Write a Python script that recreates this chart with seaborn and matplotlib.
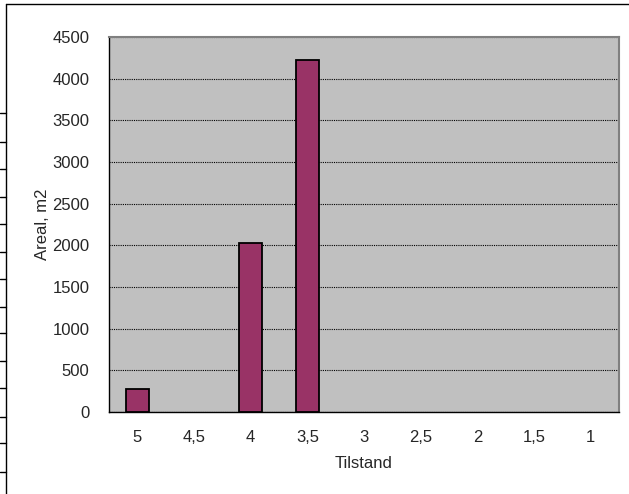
import seaborn as sns
import matplotlib.pyplot as plt
import pandas as pd

# data
tilstand = ["5", "4,5", "4", "3,5", "3", "2,5", "2", "1,5", "1"]
areal = [275, 0, 2025, 4225, 0, 0, 0, 0, 0]
y_ticks = [0, 500, 1000, 1500, 2000, 2500, 3000, 3500, 4000, 4500]

df = pd.DataFrame({"Tilstand": tilstand, "Areal": areal})

sns.set_style("white")
plt.rcParams["font.family"] = ["Liberation Sans", "DejaVu Sans"]
plt.rcParams["font.size"] = 12

fig = plt.figure(figsize=(6.29, 4.94), dpi=100)
ax = fig.add_axes([109 / 629, 1 - 412 / 494, 510 / 629, 375 / 494])

sns.barplot(x="Tilstand", y="Areal", data=df, color="#993366", width=0.4,
            edgecolor="black", linewidth=1.3, saturation=1, ax=ax, zorder=3)

# empty categories have no visible bar
for p in ax.patches:
    if p.get_height() == 0:
        p.set_linewidth(0)

ax.set_facecolor("#C0C0C0")
ax.set_ylim(0, 4500)
ax.set_xlim(-0.5, len(tilstand) - 0.5)
ax.set_yticks(y_ticks)
ax.yaxis.grid(True, linestyle=(0, (1, 1)), color="black", linewidth=0.8)
ax.set_axisbelow(True)

for s in ["top", "right"]:
    ax.spines[s].set_color("#808080")
    ax.spines[s].set_linewidth(1.5)
ax.spines["left"].set_color("black")
ax.spines["bottom"].set_color("black")
ax.spines["left"].set_linewidth(1)
ax.spines["bottom"].set_linewidth(1)

# ticks between categories on x axis, outward on y
ax.set_xticks(range(len(tilstand)))
ax.set_xticklabels(tilstand)
ax.tick_params(axis="x", length=0, pad=13)
ax.set_xticks([i - 0.5 for i in range(len(tilstand) + 1)], minor=True)
ax.tick_params(axis="x", which="minor", length=5, direction="out", color="black")
ax.tick_params(axis="y", length=5, direction="out", color="black", pad=9)

ax.set_xlabel("Tilstand", labelpad=8)
ax.set_ylabel("Areal, m2", labelpad=2)

# outer chart border and the cut-off table lines at the left edge
fig.add_artist(plt.Line2D([6 / 629, 6 / 629], [0, 1 - 4 / 494], color="black", lw=1))
fig.add_artist(plt.Line2D([6 / 629, 1], [1 - 4 / 494, 1 - 4 / 494], color="black", lw=1))
for yy in [113, 142, 169, 197, 224, 252, 279, 307, 333, 361, 388, 417, 443, 472]:
    fig.add_artist(plt.Line2D([0, 6 / 629], [1 - yy / 494, 1 - yy / 494], color="black", lw=1))

fig.savefig("out.png", dpi=100)
